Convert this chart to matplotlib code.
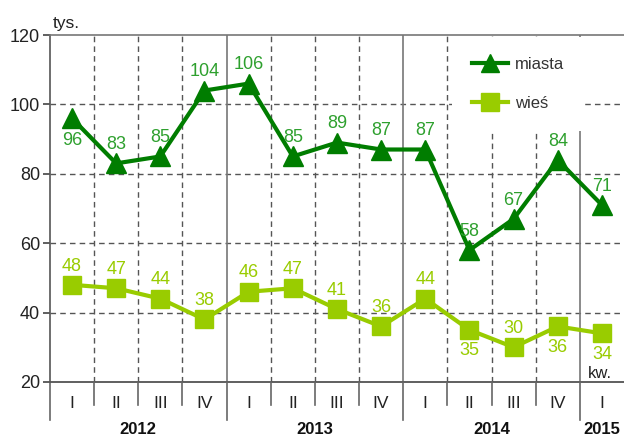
import matplotlib
matplotlib.use("Agg")
import matplotlib.pyplot as plt
from matplotlib.lines import Line2D

plt.rcParams['font.family'] = ['Liberation Sans', 'DejaVu Sans']

quarters = ["I", "II", "III", "IV", "I", "II", "III", "IV", "I", "II", "III", "IV", "I"]
years = ["2012", "2013", "2014", "2015"]
year_spans = [(0, 4), (4, 8), (8, 12), (12, 13)]
miasta = [96, 83, 85, 104, 106, 85, 89, 87, 87, 58, 67, 84, 71]
wies = [48, 47, 44, 38, 46, 47, 41, 36, 44, 35, 30, 36, 34]
miasta_below = [0]
wies_below = [9, 11, 12]

c_miasta = "#007d00"
c_miasta_lbl = "#2ea02e"
c_wies = "#99cc00"
grid_c = "#555555"

fig = plt.figure(figsize=(6.24, 4.38), dpi=100)
ax = fig.add_axes([0.080, 0.128, 0.920, 0.792])
ax.set_xlim(0, 13)
ax.set_ylim(20, 120)

x = [i + 0.5 for i in range(len(quarters))]

# grid
for yv in [40, 60, 80, 100]:
    ax.axhline(yv, color=grid_c, lw=1, ls=(0, (4, 3)), zorder=1)
for xv in range(1, 13):
    if xv % 4 == 0:
        ax.axvline(xv, color="#777777", lw=1.2, zorder=1)
    else:
        ax.axvline(xv, color=grid_c, lw=1, ls=(0, (4, 3)), zorder=1)

for s in ["right", "bottom"]:
    ax.spines[s].set_visible(False)
ax.spines["top"].set_color("#777777")
ax.spines["left"].set_color("#555555")
ax.spines["top"].set_linewidth(1.2)
ax.spines["left"].set_linewidth(1.2)
ax.axhline(20, color="#444444", lw=1.2, zorder=2, clip_on=False)

# tick separators below axis
for xv in range(0, 13):
    bottom = -0.11 if xv % 4 == 0 else -0.066
    ax.plot([xv, xv], [0, bottom], transform=ax.get_xaxis_transform(),
            color="#666666", lw=1.2, clip_on=False)

ax.set_yticks([20, 40, 60, 80, 100, 120])
ax.tick_params(axis='y', labelsize=13, length=5, width=1.2, color="#444444", pad=2, labelcolor="#222222")
ax.set_xticks([])

for xi, q in zip(x, quarters):
    ax.text(xi, -0.062, q, transform=ax.get_xaxis_transform(), ha='center', va='center',
            fontsize=12.5, color="#222222")
for yr, (a, b) in zip(years, year_spans):
    ax.text((a + b) / 2, -0.138, yr, transform=ax.get_xaxis_transform(), ha='center', va='center',
            fontsize=12, fontweight='bold', color="#111111")

ax.plot(x, miasta, color=c_miasta, lw=3, marker='^', markersize=14, zorder=4, clip_on=False)
ax.plot(x, wies, color=c_wies, lw=3, marker='s', markersize=13, zorder=4, clip_on=False)

for i, (xi, v) in enumerate(zip(x, miasta)):
    off = -16 if i in miasta_below else 13.5
    ax.annotate(str(v), (xi, v), xytext=(0, off), textcoords='offset points',
                ha='center', va='center', fontsize=13, color=c_miasta_lbl, zorder=5)
for i, (xi, v) in enumerate(zip(x, wies)):
    off = -15 if i in wies_below else 13.5
    ax.annotate(str(v), (xi, v), xytext=(0, off), textcoords='offset points',
                ha='center', va='center', fontsize=13, color=c_wies, zorder=5)

ax.text(0.005, 1.012, "tys.", transform=ax.transAxes, ha='left', va='bottom', fontsize=12.5, color="#222222")
ax.text(12.45, 21.0, "kw.", ha='center', va='baseline', fontsize=12, color="#222222")

handles = [Line2D([], [], color=c_miasta, lw=3, marker='^', markersize=13),
           Line2D([], [], color=c_wies, lw=3, marker='s', markersize=13)]
leg = ax.legend(handles, ["miasta", "wieś"], loc='upper left', bbox_to_anchor=(0.70, 0.995),
                frameon=True, facecolor='white', edgecolor='none', framealpha=1,
                fontsize=12, handlelength=2.2, labelspacing=1.45, borderpad=1.2,
                handletextpad=0.4, borderaxespad=0)
leg.set_zorder(6)
for t in leg.get_texts():
    t.set_color("#333333")

fig.savefig("out.png", dpi=100)
